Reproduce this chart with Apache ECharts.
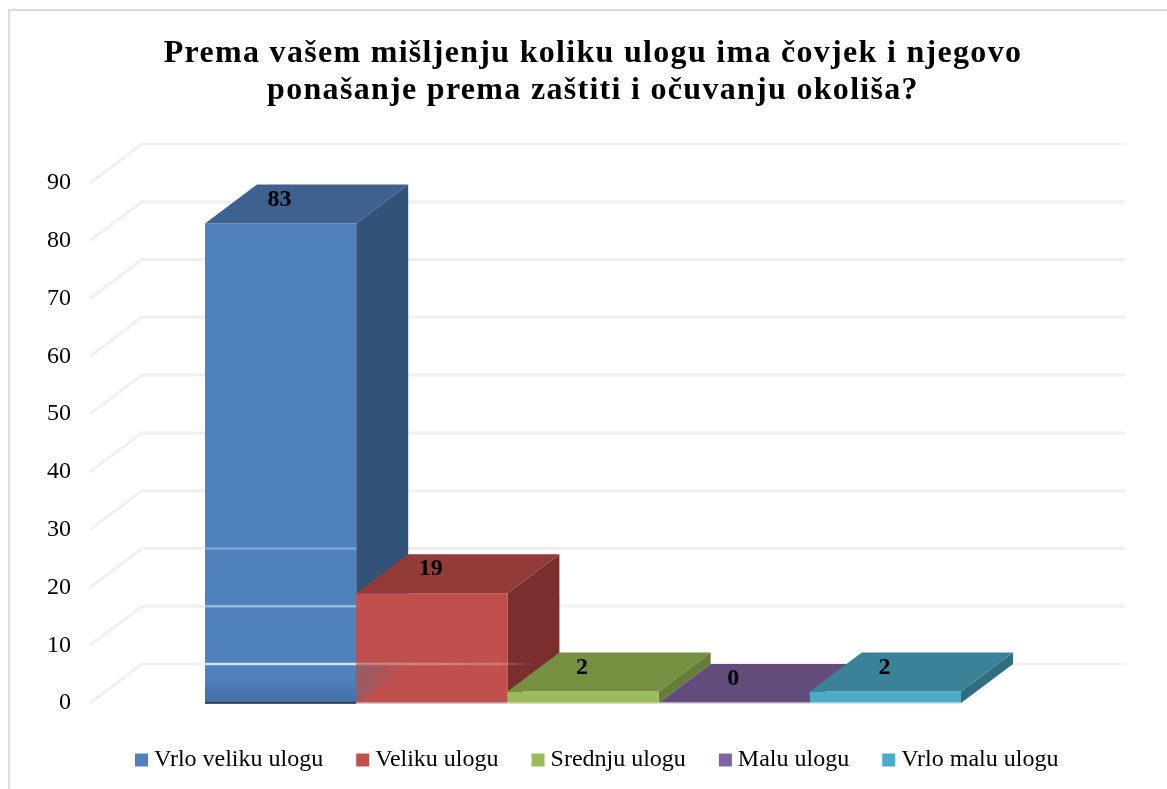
<!DOCTYPE html>
<html>
<head>
<meta charset="utf-8">
<style>
html,body{margin:0;padding:0;background:#fff}
#c{position:absolute;left:0;top:0;width:1167px;height:789px}
</style>
<script src="https://cdn.jsdelivr.net/npm/echarts@6/dist/echarts.min.js"></script>
</head>
<body>
<div id="c"></div>
<script>
const titleText = 'Prema vašem mišljenju koliku ulogu ima čovjek i njegovo\nponašanje prema zaštiti i očuvanju okoliša?';
const categories = ['Vrlo veliku ulogu', 'Veliku ulogu', 'Srednju ulogu', 'Malu ulogu', 'Vrlo malu ulogu'];
const values = [83, 19, 2, 0, 2];
const gridValues = [0, 10, 20, 30, 40, 50, 60, 70, 80, 90];
const showThrough = [0, 10, 20];
const fronts = ['#4f81bd', '#c0504d', '#9bbb59', '#8064a2', '#4bacc6'];
const tops = ['#3e618f', '#933b39', '#769041', '#634c7b', '#3b8298'];
const sides = ['#325278', '#7a2f2e', '#667c39', '#523f68', '#2f6e81'];
const bases = ['#26262e', '#c4b4b4', '#c8d4b0', '#d0c8d8', '#c0dce4'];

const FONT = '"Liberation Serif"';
const DX = 52, DY = 39;
const WALL_LEFT = 90, WALL_RIGHT = 1125;

// The reference title is tracked out a little; canvas exposes this as letterSpacing.
const proto = CanvasRenderingContext2D.prototype, rawFill = proto.fillText;
proto.fillText = function (t, x, y, m) {
  this.letterSpacing = /bold 32px/.test(this.font) ? '1.3px' : '0px';
  return m === undefined ? rawFill.call(this, t, x, y) : rawFill.call(this, t, x, y, m);
};

function wallItem(params, api) {
  const p = api.coord([0, api.value(1)]);
  return {
    type: 'polyline', silent: true,
    shape: { points: [[WALL_LEFT, p[1]], [WALL_LEFT + DX, p[1] - DY], [WALL_RIGHT, p[1] - DY]] },
    style: { stroke: '#f0f0f0', lineWidth: 3, fill: null }
  };
}

function barItem(params, api) {
  const i = api.value(0), v = api.value(1);
  const c = api.coord([i, v]), b = api.coord([i, 0]);
  const w = api.size([1, 0])[0];
  const x0 = c[0] - w / 2, x1 = c[0] + w / 2, yt = c[1], yb = b[1];
  const poly = (pts, fill) => ({ type: 'polygon', silent: true, shape: { points: pts }, style: { fill: fill } });
  const frontFill = i === 0 ? {
    type: 'linear', x: 0, y: 0, x2: 0, y2: 1,
    colorStops: [{ offset: 0, color: fronts[0] }, { offset: 0.95, color: fronts[0] }, { offset: 1, color: '#426ea6' }]
  } : fronts[i];
  const children = [];
  if (v > 0) {
    children.push(poly([[x1, yt], [x1 + DX, yt - DY], [x1 + DX, yb - DY], [x1, yb]], sides[i]));
    children.push({ type: 'rect', silent: true, shape: { x: x0, y: yt, width: w, height: yb - yt }, style: { fill: frontFill } });
  }
  children.push(poly([[x0, yt], [x0 + DX, yt - DY], [x1 + DX, yt - DY], [x1, yt]], tops[i]));
  children.push({ type: 'line', silent: true, shape: { x1: x0, y1: yb, x2: x1, y2: yb }, style: { stroke: bases[i], lineWidth: 1.5 } });
  children.push({
    type: 'text', silent: true,
    style: { x: c[0] - 1, y: yt - 24, text: String(v), align: 'center', verticalAlign: 'middle', fill: '#000', font: 'bold 24px ' + FONT }
  });
  return { type: 'group', children: children };
}

function throughItem(params, api) {
  const v = api.value(1), y = api.coord([0, v])[1] - DY;
  const c0 = api.coord([0, 0]), c1 = api.coord([1, 0]), w = api.size([1, 0])[0];
  const x0 = c0[0] - w / 2, x1 = c0[0] + w / 2;
  const alpha = v === 0 ? 0.78 : v === 10 ? 0.42 : 0.28;
  const children = [{ type: 'line', silent: true, shape: { x1: x0, y1: y, x2: x1, y2: y }, style: { stroke: 'rgba(255,255,255,' + alpha + ')', lineWidth: 2.5 } }];
  if (v === 0) {
    children.push({
      type: 'line', silent: true,
      shape: { x1: x1, y1: y, x2: c1[0] + w / 2 + DX / 2, y2: y },
      style: { lineWidth: 2.5, stroke: { type: 'linear', x: 0, y: 0, x2: 1, y2: 0, colorStops: [
        { offset: 0, color: 'rgba(255,255,255,.32)' }, { offset: 0.8, color: 'rgba(255,255,255,.22)' }, { offset: 1, color: 'rgba(255,255,255,0)' }] } }
    });
    children.push({
      type: 'polygon', silent: true,
      shape: { points: [[x1, y + DY], [x1, y], [x1 + DX, y]] },
      style: { fill: { type: 'linear', x: 0, y: 0, x2: 1, y2: 0, colorStops: [
        { offset: 0, color: 'rgba(90,110,140,.4)' }, { offset: 1, color: 'rgba(90,110,140,0)' }] } }
    });
  }
  return { type: 'group', children: children };
}

const barSeries = categories.map((name, i) => ({
  type: 'custom', name: name, coordinateSystem: 'cartesian2d', renderItem: barItem,
  itemStyle: { color: fronts[i] }, encode: { x: 0, y: 1 }, data: [[i, values[i]]], z: 3 + i
}));

const chart = echarts.init(document.getElementById('c'), null, { renderer: 'canvas' });
chart.setOption({
  animation: false,
  backgroundColor: '#fff',
  title: {
    text: titleText, left: 588, top: 30, textAlign: 'center',
    textStyle: { fontFamily: FONT, fontWeight: 'bold', fontSize: 32, lineHeight: 37, color: '#000' }
  },
  legend: {
    data: categories, left: 130, top: 743, icon: 'rect', itemWidth: 13, itemHeight: 13, itemGap: 33,
    textStyle: { fontFamily: FONT, fontSize: 24, color: '#000', padding: [0, 0, 0, 1] }, selectedMode: false
  },
  grid: { left: 205, width: 756, top: 183, height: 520 },
  xAxis: { type: 'category', data: categories, show: false, boundaryGap: true },
  yAxis: {
    type: 'value', min: 0, max: 90, interval: 10,
    axisLine: { show: false }, axisTick: { show: false }, splitLine: { show: false },
    axisLabel: { margin: 134, fontFamily: FONT, fontSize: 24, color: '#000' }
  },
  graphic: [
    { type: 'line', silent: true, z: -1, shape: { x1: 9, y1: 9, x2: 9, y2: 789 }, style: { stroke: '#dcdcdc', lineWidth: 2 } },
    { type: 'line', silent: true, z: -1, shape: { x1: 8, y1: 10, x2: 1167, y2: 10 }, style: { stroke: '#dcdcdc', lineWidth: 2 } }
  ],
  series: [
    { type: 'custom', name: 'wall', coordinateSystem: 'cartesian2d', renderItem: wallItem, encode: { x: 0, y: 1 }, data: gridValues.map(v => [0, v]), z: 1 }
  ].concat(barSeries, [
    { type: 'custom', name: 'through', coordinateSystem: 'cartesian2d', renderItem: throughItem, encode: { x: 0, y: 1 }, data: showThrough.map(v => [0, v]), z: 9 }
  ])
});
</script>
</body>
</html>
